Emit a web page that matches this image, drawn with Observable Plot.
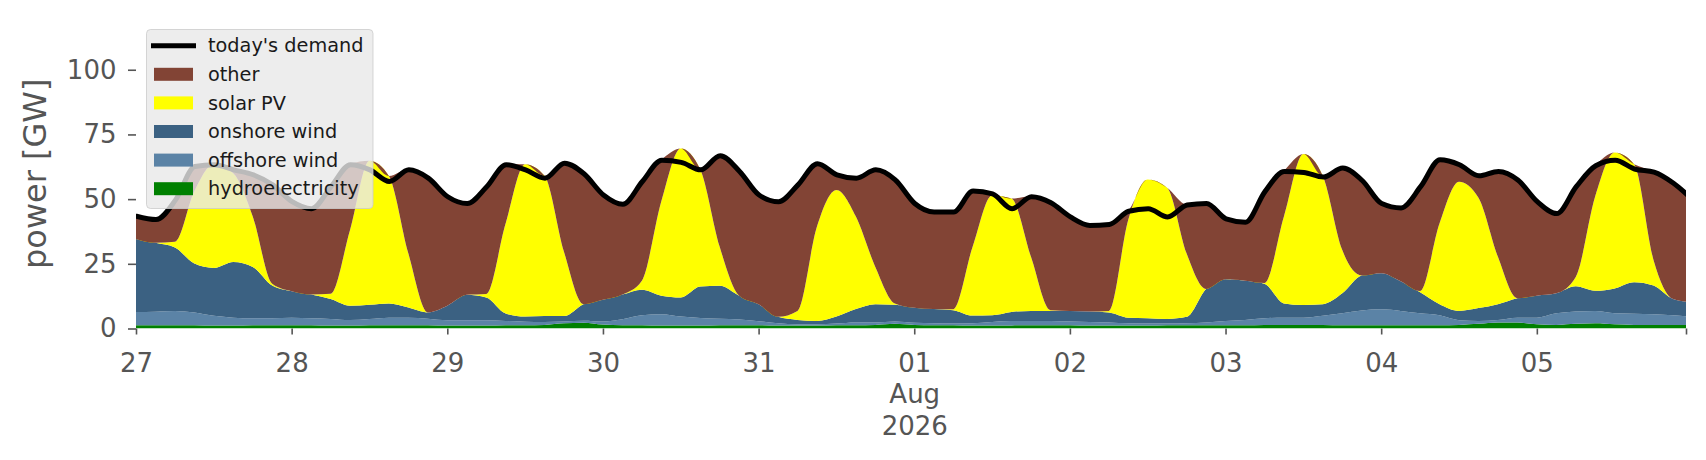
<!DOCTYPE html>
<html>
<head>
<meta charset="utf-8">
<script src="https://cdn.jsdelivr.net/npm/d3@7"></script>
<script src="https://cdn.jsdelivr.net/npm/@observablehq/plot@0.6"></script>
<style>
  body { margin: 0; background: #fff; }
  #chart { width: 1706px; height: 460px; }
</style>
</head>
<body>
<div id="chart"></div>
<script>
// Time axis: 3-hourly samples starting 27 Jul 2026 00:00 (UTC)
const startTime = Date.UTC(2026, 6, 27, 0);
const endTime = Date.UTC(2026, 7, 5, 23);
const stepHours = 3;

// Values in GW (one value every 3 hours)
const hydro = [1.3,1.3,1.3,1.3,1.2,1.2,1.3,1.3,1.3,1.3, 1.2,1.2,1.3,1.3,1.3,1.3,1.2,1.2,1.2,1.3,
  1.3,1.4,2.0,2.2,1.5,1.3,1.3,1.2,1.2,1.2, 1.3,1.3,1.3,1.2,1.2,1.2,1.3,1.3,1.4,1.8,
  1.4,1.3,1.3,1.2,1.2,1.2,1.3,1.3,1.3,1.2, 1.2,1.2,1.2,1.3,1.3,1.3,1.3,1.3,1.4,1.4,
  1.4,1.4,1.3,1.3,1.3,1.3,1.3,1.3,1.4,1.8, 2.3,2.3,1.6,1.4,1.8,2.0,1.6,1.4,1.4,1.4, 1.4];

const offshoreWind = [5.1,5.2,5.5,4.9,3.7,3.0,2.7,2.7,2.9,2.7, 2.5,2.1,2.4,2.9,2.9,2.5,2.0,2.0,2.0,1.6,
  1.3,1.1,0.7,0.8,1.2,2.3,3.8,4.3,3.4,2.9, 2.5,2.2,1.5,0.8,0.4,0.4,0.6,1.0,0.9,0.9,
  0.8,0.7,0.6,0.8,1.3,1.7,1.6,1.6,1.4,1.3, 1.1,0.8,0.7,0.6,0.7,1.0,1.6,2.0,2.6,2.8,
  2.8,3.5,4.6,5.7,6.1,5.5,4.6,3.8,1.8,1.1, 1.0,1.9,2.6,4.5,4.8,4.8,4.3,4.3,4.1,3.7, 3.1];

const onshoreWind = [28.2,26.6,24.5,18.9,18.5,21.5,19.8,12.6,10.2,9.1, 7.7,5.5,5.5,5.5,3.9,2.4,5.6,9.8,8.8,2.9,
  2.0,2.3,2.1,6.4,8.4,9.5,9.9,7.2,7.4,12.1, 12.7,9.2,6.6,2.5,1.7,1.3,2.7,5.2,7.1,6.5,
  5.8,5.5,5.2,3.0,2.6,3.5,3.9,3.9,4.1,4.1, 3.9,2.2,2.1,1.8,2.5,13.0,16.1,15.2,13.3,5.5,
  4.9,4.5,7.7,13.5,14.0,11.5,8.1,4.3,3.6,5.0, 6.1,7.5,8.5,7.7,9.7,7.8,9.6,12.2,11.1,6.3, 5.6];

const solarPV = [0,0,2.2,28.0,40.1,34.3,19.5,0.7,0,0, 2.0,29.3,55.6,49.2,20.9,0,0,0,1.3,34.9,
  58.9,54.2,24.8,0,0,0,3.5,36.5,57.6,45.3, 15.1,0,0,0,3.5,36.5,48.9,35.8,14.4,0.5,
  0,0,0.3,26.6,46.3,43.8,20.9,0.3,0,0, 0.6,37.8,53.6,50.7,24.5,0,0,0,0.3,33.6,
  58.3,49.5,16.7,0,0,0,0.5,31.3,49.9,42.6, 18.3,0,0,0,3.6,36.5,52.5,45.6,9.8,0, 0];

const other = [9.0,9.2,16.3,9.7,0,1.5,16.3,38.4,34.8,33.4, 41.6,25.4,0,0,32.5,52.1,42.3,35.5,41.7,22.8,
  0,0,34.5,50.6,40.7,35.1,38.5,16.0,0,0, 35.4,48.2,42.4,44.7,48.9,24.5,6.1,15.0,37.7,47.9,
  40.5,37.7,37.8,21.7,0.8,0,23.4,41.7,36.5,33.4, 33.6,3.5,0,0,18.9,33.2,23.6,22.8,35.5,17.6,
  0,0,31.9,36.9,27.1,28.5,40.5,24.7,6.8,8.7, 33.2,45.9,36.5,31.0,35.1,12.0,0,0,34.2,44.9, 39.7];

const demand = [43.6,42.3,49.8,62.8,63.5,61.5,59.6,55.7,49.2,46.5, 55.0,63.5,61.5,57.0,61.5,58.3,51.1,48.5,55.0,63.5,
  61.5,58.3,64.1,60.0,51.8,48.2,57.0,65.2,64.4,61.5, 67.0,60.9,51.8,49.2,55.7,63.9,59.6,58.3,61.5,57.6,
  48.5,45.2,45.2,53.3,52.2,46.5,51.1,48.8,43.3,40.0, 40.4,45.5,46.5,43.3,47.9,48.5,42.6,41.3,53.1,60.9,
  60.5,58.7,62.2,57.4,48.5,46.8,55.0,65.4,63.5,59.2, 60.9,57.6,49.2,44.6,55.0,63.1,65.2,61.8,60.6,56.3, 49.8];

// Series (bottom to top of the stack) and colours
const seriesNames = ["hydroelectricity", "offshore wind", "onshore wind", "solar PV", "other"];
const seriesColors = ["#008000", "#5b83a6", "#3b6182", "#ffff00", "#824435"];
const seriesValues = [hydro, offshoreWind, onshoreWind, solarPV, other];

const yTicks = [0, 25, 50, 75, 100];
const legendItems = ["today's demand", "other", "solar PV", "onshore wind", "offshore wind", "hydroelectricity"];

// Build tables
const times = demand.map((_, i) => new Date(startTime + i * stepHours * 3600e3));
const stackRows = seriesNames.flatMap((name, k) =>
  seriesValues[k].map((v, i) => ({time: times[i], series: name, value: v})));
const demandRows = demand.map((v, i) => ({time: times[i], value: v}));

const xStart = new Date(startTime);
const xEnd = new Date(endTime);
const xTicks = [...d3.utcDay.range(xStart, new Date(Date.UTC(2026, 7, 6))), xEnd];
const fmtDay = d3.utcFormat("%d");
const tickFormat = d => {
  if (+d === +xEnd) return "";
  if (d.getUTCMonth() === 7 && d.getUTCDate() === 1) return "01\nAug\n2026";
  return fmtDay(d);
};

const textColor = "#555555";

const svg = Plot.plot({
  width: 1706,
  height: 460,
  marginLeft: 136,
  marginRight: 20,
  marginTop: 18,
  marginBottom: 131.5,
  style: {fontFamily: "'DejaVu Sans', sans-serif", background: "#ffffff", overflow: "visible"},
  x: {type: "utc", domain: [xStart, xEnd]},
  y: {domain: [0, 120]},
  color: {domain: seriesNames, range: seriesColors},
  marks: [
    Plot.areaY(stackRows, {x: "time", y: "value", z: "series", fill: "series", curve: "monotone-x", clip: true}),
    Plot.lineY(demandRows, {x: "time", y: "value", stroke: "#000", strokeWidth: 5, curve: "monotone-x", clip: true, strokeLinejoin: "round"}),
    Plot.axisX({ticks: xTicks, tickFormat, tickSize: 6, tickPadding: 14, fontSize: 26, lineHeight: 1.22,
      color: textColor, strokeWidth: 1.6, label: null}),
    Plot.axisY({ticks: yTicks, tickSize: 8, tickPadding: 12, fontSize: 26, color: textColor,
      strokeWidth: 1.6, label: null}),
    Plot.text(["power [GW]"], {frameAnchor: "left", dx: -101, rotate: -90, textAnchor: "middle", lineAnchor: "middle", fontSize: 32, fill: textColor})
  ]
});

// Legend inside the plot, upper left
const lg = d3.select(svg).append("g")
  .attr("font-family", "'DejaVu Sans', sans-serif")
  .attr("text-anchor", "start");
lg.append("rect")
  .attr("x", 146.5).attr("y", 29.5).attr("width", 226.5).attr("height", 179).attr("rx", 4)
  .attr("fill", "#e8e8e8").attr("fill-opacity", 0.8)
  .attr("stroke", "#cccccc").attr("stroke-opacity", 0.8);
const colorOf = name => seriesColors[seriesNames.indexOf(name)];
legendItems.forEach((name, k) => {
  const cy = 45.7 + 28.6 * k;
  if (k === 0) {
    lg.append("line").attr("x1", 151).attr("x2", 196).attr("y1", cy).attr("y2", cy)
      .attr("stroke", "#000").attr("stroke-width", 5);
  } else {
    lg.append("rect").attr("x", 154).attr("y", cy - 6.5).attr("width", 39).attr("height", 13)
      .attr("fill", colorOf(name));
  }
  lg.append("text").attr("x", 208).attr("y", cy).attr("dy", "0.35em")
    .attr("text-anchor", "start")
    .attr("font-size", 19.3).attr("fill", "#1a1a1a").text(name);
});

document.getElementById("chart").appendChild(svg);
</script>
</body>
</html>
